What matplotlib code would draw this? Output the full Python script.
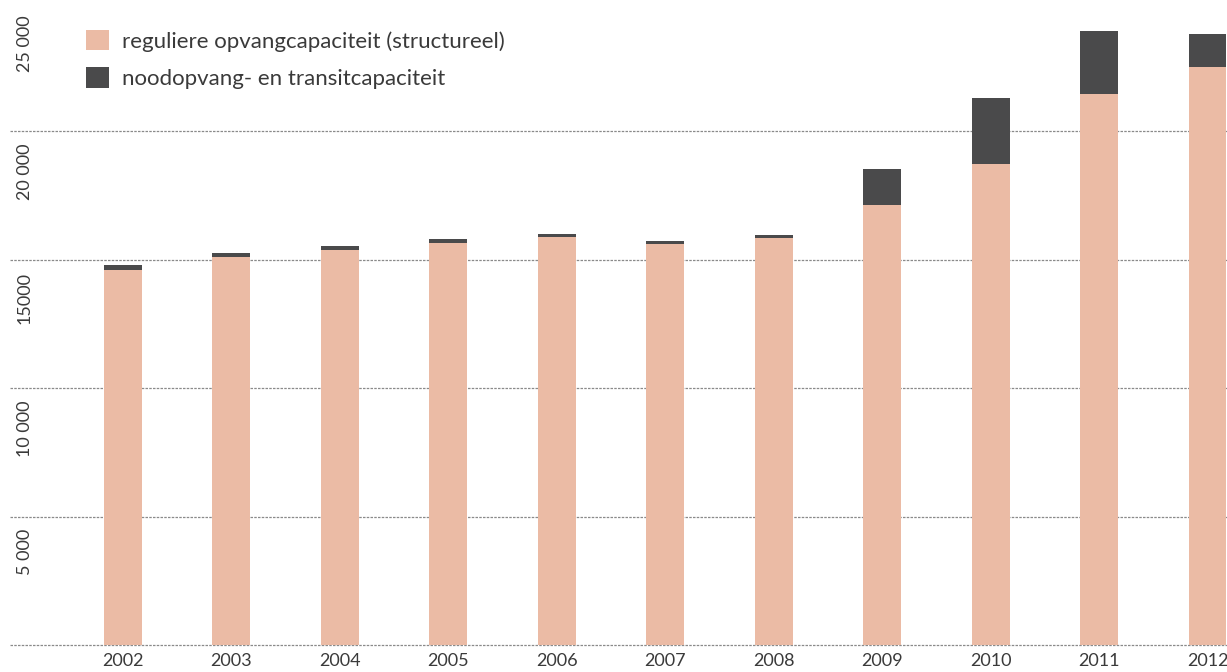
import matplotlib
matplotlib.use('Agg')
import matplotlib.pyplot as plt
from matplotlib.patches import Patch

# Data
years = ['2002', '2003', '2004', '2005', '2006', '2007', '2008', '2009', '2010', '2011', '2012']
regulier = [14600, 15100, 15400, 15650, 15900, 15600, 15850, 17150, 18750, 21450, 22500]
noodopvang = [200, 150, 120, 150, 120, 120, 120, 1400, 2550, 2450, 1300]
y_ticks = [5000, 10000, 15000, 20000, 25000]
y_labels = ['5 000', '10 000', '15000', '20 000', '25 000']

series_labels = ['reguliere opvangcapaciteit (structureel)',
                 'noodopvang- en transitcapaciteit']
col_reg = '#EBBBA5'
col_nood = '#4A4A4B'

plt.rcParams['font.family'] = ['Lato', 'DejaVu Sans']

fig = plt.figure(figsize=(12.27, 6.72), dpi=100)
ax = fig.add_axes([10 / 1227, 27 / 672, 1217 / 1227, 642 / 672])

x = list(range(len(years)))
ax.bar(x, regulier, width=0.35, color=col_reg, zorder=2)
ax.bar(x, noodopvang, width=0.35, bottom=regulier, color=col_nood, zorder=2)

# gridlines (dashed, thin)
for v in [0] + y_ticks[:-1]:
    ax.axhline(v, color='#8a8a8a', lw=0.9, ls=(0, (2, 1)), zorder=1, clip_on=False)

ax.set_xlim(-1.042, 10.18)
ax.set_ylim(0, 25000)

# rotated y labels inside the plot, just under each gridline
for v, lab in zip(y_ticks, y_labels):
    ax.annotate(lab, xy=(0, v), xycoords=('axes fraction', 'data'),
                xytext=(15, -12), textcoords='offset pixels',
                rotation=90, ha='center', va='top', fontsize=13,
                color='#3a3a3a')

ax.set_xticks(x)
ax.set_xticklabels(years, fontsize=13, color='#3a3a3a')
ax.tick_params(axis='x', length=0, pad=6)
ax.set_yticks([])
for s in ax.spines.values():
    s.set_visible(False)

handles = [Patch(facecolor=col_reg, edgecolor='none'),
           Patch(facecolor=col_nood, edgecolor='none')]
leg = ax.legend(handles, series_labels, loc='upper left',
                bbox_to_anchor=(76 / 1217, 1 - 27 / 642),
                frameon=False, fontsize=16, handlelength=1.04, handleheight=1.04,
                handletextpad=0.6, labelspacing=0.7, borderaxespad=0,
                borderpad=0)
for t in leg.get_texts():
    t.set_color('#3a3a3a')

fig.savefig('out.png', dpi=100)
